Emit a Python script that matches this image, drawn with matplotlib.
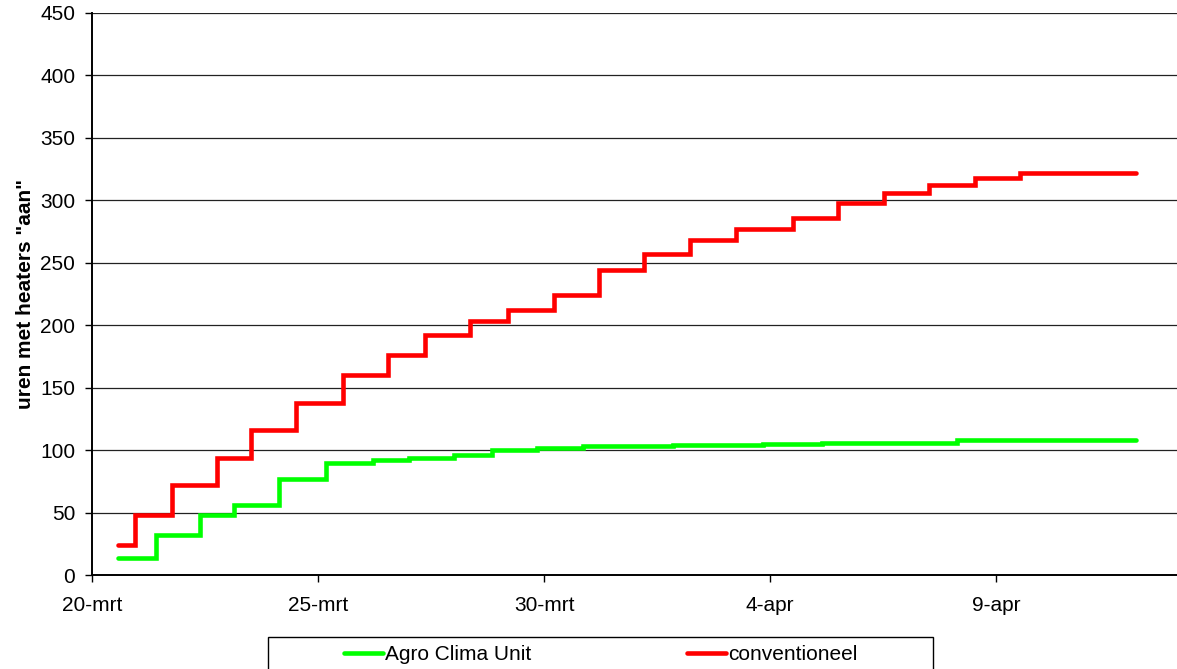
import matplotlib
matplotlib.use("Agg")
import matplotlib.pyplot as plt
from matplotlib.patches import Rectangle
import pandas as pd

# cumulative hours with heaters "on" (step series, value holds until next time)
aru_times = ['2007-03-20 13:48', '2007-03-21 09:50', '2007-03-22 09:20', '2007-03-23 03:25',
             '2007-03-24 03:30', '2007-03-25 04:15', '2007-03-26 05:00', '2007-03-27 00:30',
             '2007-03-28 00:15', '2007-03-28 20:15', '2007-03-29 20:05', '2007-03-30 20:30',
             '2007-04-01 20:25', '2007-04-03 20:25', '2007-04-05 03:20', '2007-04-08 03:05',
             '2007-04-12 02:25']
aru_hours = [14, 32, 48, 56, 77, 90, 92, 94, 96, 100, 102, 103, 104, 105, 106, 108, 108]

conv_times = ['2007-03-20 13:48', '2007-03-20 22:50', '2007-03-21 18:20', '2007-03-22 18:15',
              '2007-03-23 12:25', '2007-03-24 12:10', '2007-03-25 13:25', '2007-03-26 13:20',
              '2007-03-27 08:50', '2007-03-28 08:45', '2007-03-29 05:00', '2007-03-30 05:15',
              '2007-03-31 05:15', '2007-04-01 05:15', '2007-04-02 05:30', '2007-04-03 05:45',
              '2007-04-04 12:00', '2007-04-05 12:15', '2007-04-06 12:15', '2007-04-07 12:30',
              '2007-04-08 13:00', '2007-04-09 12:45', '2007-04-12 02:25']
conv_hours = [24, 48, 72, 94, 116, 138, 160, 176, 192, 203, 212, 224, 244, 257, 268, 277,
              286, 298, 306, 312, 318, 322, 322]

tick_dates = ['2007-03-20', '2007-03-25', '2007-03-30', '2007-04-04', '2007-04-09']
tick_labels = ['20-mrt', '25-mrt', '30-mrt', '4-apr', '9-apr']

plt.rcParams['font.family'] = ['Liberation Sans', 'DejaVu Sans']
plt.rcParams['font.size'] = 15

fig = plt.figure(figsize=(11.77, 6.69), dpi=100)
ax = fig.add_axes([0.0782, 0.1405, 0.9218, 0.8401])

ax.step(pd.to_datetime(aru_times), aru_hours, where='post', color='#00ff00', lw=3.3,
        solid_capstyle='round', solid_joinstyle='miter', label='Agro Clima Unit', zorder=3)
ax.step(pd.to_datetime(conv_times), conv_hours, where='post', color='#ff0000', lw=3.3,
        solid_capstyle='round', solid_joinstyle='miter', label='conventioneel', zorder=3)

ax.set_ylim(0, 450)
ax.set_yticks(range(0, 451, 50))
ax.set_xlim(pd.Timestamp('2007-03-20'), pd.Timestamp('2007-04-13'))
ax.set_xticks(pd.to_datetime(tick_dates))
ax.set_xticklabels(tick_labels)

ax.grid(axis='y', color='#222222', lw=0.9)
ax.set_axisbelow(True)
for side in ['top', 'right']:
    ax.spines[side].set_visible(False)
for side in ['left', 'bottom']:
    ax.spines[side].set_linewidth(1.4)
    ax.spines[side].set_color('black')
ax.tick_params(axis='both', direction='out', length=5, width=1, colors='black', labelsize=15)
ax.tick_params(axis='x', pad=10)
ax.tick_params(axis='y', pad=7)

ax.set_ylabel('uren met heaters "aan"', fontsize=15, fontweight='bold', labelpad=4)

# legend box sits partly below the figure edge, as in the original
fig.patches.append(Rectangle((268 / 1177, -0.05), (933 - 268) / 1177, 0.05 + 32 / 669,
                             transform=fig.transFigure, fill=False, edgecolor='black', lw=1.0))
fig.legend(loc='center', bbox_to_anchor=(0.5105, 0.0215), ncol=2, frameon=False, fontsize=15,
           handlelength=1.85, handletextpad=0.1, columnspacing=7.5, borderaxespad=0)

fig.savefig('out.png', dpi=100)
